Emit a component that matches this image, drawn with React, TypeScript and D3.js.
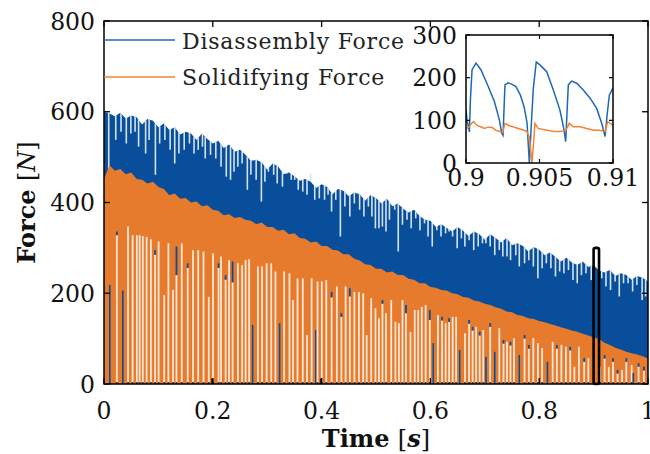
import React from "react";
import * as d3 from "d3";

// ---------- data ----------
const envT = [0,0.01,0.02,0.03,0.04,0.05,0.06,0.07,0.08,0.09,0.1,0.11,0.12,0.13,0.14,0.15,0.16,0.17,0.18,0.19,0.2,0.21,0.22,0.23,0.24,0.25,0.26,0.27,0.28,0.29,0.3,0.31,0.32,0.33,0.34,0.35,0.36,0.37,0.38,0.39,0.4,0.41,0.42,0.43,0.44,0.45,0.46,0.47,0.48,0.49,0.5,0.51,0.52,0.53,0.54,0.55,0.56,0.57,0.58,0.59,0.6,0.61,0.62,0.63,0.64,0.65,0.66,0.67,0.68,0.69,0.7,0.71,0.72,0.73,0.74,0.75,0.76,0.77,0.78,0.79,0.8,0.81,0.82,0.83,0.84,0.85,0.86,0.87,0.88,0.89,0.9,0.91,0.92,0.93,0.94,0.95,0.96,0.97,0.98,0.99,1];
const blueTop = [600,596,590,598,585,592,588,572,584,580,566,574,560,566,550,556,552,538,552,540,530,536,520,528,512,516,505,492,494,488,472,486,480,462,466,458,448,452,446,432,440,434,418,430,426,414,422,418,404,416,410,398,408,392,398,386,378,384,370,362,360,346,352,344,336,346,338,326,336,330,318,330,322,312,322,306,310,304,292,302,296,284,290,280,270,278,268,262,270,258,262,250,246,251,238,244,240,230,238,234,226];
const orangeTop = [452,482,470,474,462,466,452,450,442,446,434,430,416,420,408,410,400,402,392,394,384,382,372,374,366,368,362,360,352,356,346,346,338,340,330,332,322,320,312,314,304,304,296,294,286,286,276,272,264,262,254,254,246,248,240,240,232,230,222,222,214,212,207,206,200,198,192,190,184,182,177,174,169,166,160,158,152,150,145,143,139,136,132,129,125,122,118,115,111,107,103,99,91,86,80,76,71,68,65,61,56];

const blueGapT = [0.0087,0.0216,0.0313,0.041,0.0494,0.0571,0.0636,0.0765,0.0829,0.0945,0.1023,0.1119,0.1216,0.13,0.1377,0.1474,0.1571,0.1655,0.1732,0.181,0.1861,0.1958,0.2055,0.2152,0.2248,0.2326,0.239,0.2461,0.2539,0.2635,0.27,0.2797,0.2893,0.2958,0.3022,0.3119,0.3184,0.328,0.3364,0.3442,0.3506,0.3571,0.3654,0.3732,0.3796,0.3874,0.3958,0.4054,0.4119,0.4183,0.4261,0.4345,0.4428,0.4519,0.4602,0.4699,0.4777,0.486,0.4925,0.4989,0.5054,0.5118,0.5183,0.5247,0.5344,0.5409,0.5486,0.557,0.5647,0.5731,0.5808,0.5892,0.5957,0.6034,0.6118,0.6195,0.6279,0.6344,0.6408,0.6492,0.657,0.6634,0.6712,0.6796,0.6879,0.6957,0.7021,0.7099,0.7183,0.7266,0.7331,0.7408,0.7473,0.757,0.7634,0.7731,0.7809,0.7893,0.7976,0.8054,0.8131,0.8215,0.8299,0.8376,0.8454,0.8538,0.8621,0.8699,0.8777,0.886,0.8957,0.915,0.9227,0.9311,0.9395,0.9472,0.955,0.9634,0.9717,0.9795,0.9892,0.9956];
const blueGapBottom = [468,538,556,530,552,556,523,508,538,461,530,538,516,486,508,516,530,508,516,523,497,505,497,479,457,450,468,479,486,428,461,450,402,446,468,461,442,435,464,450,450,428,424,417,464,406,409,406,417,380,406,325,391,369,398,384,369,391,369,343,343,347,336,362,384,292,351,362,343,365,339,354,325,303,339,325,332,336,325,299,321,303,317,295,303,310,310,303,284,295,281,281,273,284,259,266,273,259,233,255,266,255,237,248,244,251,229,222,240,244,229,233,215,207,226,193,222,222,204,218,185,193];

const gapT = [0.0107,0.0236,0.0346,0.0442,0.0526,0.0604,0.0655,0.0713,0.0784,0.0862,0.0939,0.1004,0.1107,0.1184,0.1268,0.1332,0.1429,0.1539,0.1636,0.1732,0.1829,0.1926,0.2004,0.2106,0.2152,0.2235,0.2299,0.2364,0.2461,0.2539,0.2603,0.2668,0.2732,0.2829,0.2906,0.299,0.3074,0.3151,0.3228,0.3312,0.3409,0.3474,0.3557,0.3654,0.3732,0.3816,0.3893,0.3925,0.4004,0.4086,0.4184,0.428,0.4364,0.4441,0.4519,0.4603,0.4686,0.4765,0.4829,0.4912,0.499,0.5053,0.5119,0.5184,0.528,0.5357,0.5421,0.5487,0.5551,0.5634,0.5712,0.5776,0.5842,0.5912,0.5989,0.6053,0.6138,0.6215,0.628,0.6344,0.6409,0.6473,0.6538,0.6635,0.6712,0.6776,0.6841,0.6906,0.6971,0.7022,0.7099,0.7183,0.7267,0.7344,0.7408,0.7472,0.7537,0.7634,0.7731,0.7809,0.7892,0.7976,0.8054,0.8151,0.8247,0.8324,0.8408,0.8492,0.857,0.8647,0.873,0.8827,0.8904,0.9118,0.9202,0.9279,0.9357,0.944,0.9524,0.9601,0.9699,0.973,0.9827,0.9925];
const gapTop = [218,336,206,347,328,328,328,326,324,319,295,314,196,310,207,303,310,266,295,295,292,192,288,266,281,240,273,270,266,262,273,275,130,259,259,266,266,248,134,248,244,185,233,233,108,233,119,226,226,229,203,215,156,215,211,203,203,200,108,189,167,145,185,156,185,137,134,185,174,115,163,163,170,174,163,90,152,148,134,145,148,148,75,112,141,126,126,115,119,60,134,71,123,97,93,93,101,64,108,86,101,90,79,49,93,86,86,82,82,38,82,57,57,38,64,38,57,31,31,57,42,24,46,38];
const gapKind = ["b","c","b","w","w","w","w","w","w","w","c","w","w","w","w","c","w","c","w","w","w","w","w","c","w","c","w","c","w","w","w","w","b","w","w","w","w","w","b","w","w","w","w","w","w","w","b","w","w","w","c","w","c","w","c","w","w","w","w","w","w","w","c","w","w","w","w","w","c","w","w","w","w","w","c","b","w","c","w","c","w","w","b","w","c","c","w","c","w","b","c","b","w","c","w","c","w","b","c","c","w","w","w","b","w","c","w","w","c","w","w","c","w","w","c","w","c","c","w","c","w","b","c","c"];
const gapCap = [0,8,0,0,0,0,0,0,0,0,10,0,0,0,0,63,0,10,0,0,0,0,0,10,0,10,0,46,0,0,0,0,0,0,0,0,0,0,0,0,0,0,0,0,0,0,0,0,0,0,12,0,8,0,18,0,0,0,0,0,0,0,8,0,0,0,0,0,18,0,0,0,0,0,22,0,0,8,0,8,0,0,0,0,8,8,0,8,0,0,8,0,0,8,0,8,0,0,8,8,0,0,0,0,0,8,0,0,8,0,0,8,0,0,8,0,8,8,0,8,0,0,8,8];

const baseMarkT = [0.199, 0.399];
const baseMarkV = [12, 12];

const insetBlueT = [0.9,0.90007,0.90023,0.9003,0.90041,0.90068,0.90102,0.90147,0.90193,0.90227,0.90243,0.90252,0.90265,0.90286,0.9031,0.9034,0.9037,0.90395,0.90415,0.90431,0.90445,0.90458,0.90478,0.90503,0.90549,0.90594,0.90639,0.90667,0.90678,0.90696,0.90719,0.90753,0.90798,0.90844,0.90889,0.90923,0.90946,0.90961,0.90975,0.90998];
const insetBlueV = [124,101,73,148,218,234,218,183,144,101,70,65,183,188,185,179,159,132,95,0,95,175,237,230,214,171,124,77,50,183,192,187,171,152,128,93,62,116,159,175];
const insetOrangeT = [0.9,0.9002,0.90035,0.90052,0.90075,0.901,0.90125,0.9015,0.9018,0.902,0.9023,0.9025,0.90265,0.9029,0.9032,0.90355,0.90385,0.90413,0.9043,0.90449,0.90458,0.90469,0.9049,0.9055,0.906,0.90645,0.9068,0.90703,0.9073,0.9078,0.9082,0.9087,0.9091,0.90946,0.90964,0.90998];
const insetOrangeV = [81,84,92,97,88,85,81,84,83,77,74,72,93,88,85,81,78,74,62,0,40,93,81,77,74,74,77,93,85,85,81,77,77,74,97,89];

const xTicks = [0, 0.2, 0.4, 0.6, 0.8, 1];
const xTickLabels = ["0", "0.2", "0.4", "0.6", "0.8", "1"];
const yTicks = [0, 200, 400, 600, 800];
const yTickLabels = ["0", "200", "400", "600", "800"];
const insetXTicks = [0.9, 0.905, 0.91];
const insetXTickLabels = ["0.9", "0.905", "0.91"];
const insetYTicks = [0, 100, 200, 300];
const insetYTickLabels = ["0", "100", "200", "300"];
const seriesNames = ["Disassembly Force", "Solidifying Force"];

// ---------- styling ----------
const BLUE_FILL = "#084e9b";
const ORANGE_FILL = "#e67b2d";
const BLUE_LINE = "#1f68b8";
const ORANGE_LINE = "#ee8436";
const BLUE_GAP = "#d3e3f3";
const ORANGE_GAP = "#fce5d2";
const FONT = "DejaVu Serif";

export default function App() {
  const x = d3.scaleLinear().domain([0, 1]).range([104, 648]);
  const y = d3.scaleLinear().domain([0, 800]).range([384, 21]);
  const xi = d3.scaleLinear().domain([0.9, 0.91]).range([466, 613]);
  const yi = d3.scaleLinear().domain([0, 300]).range([163, 35]);

  const blueAt = d3.scaleLinear().domain(envT).range(blueTop).clamp(true);

  const area = (vals: number[]) =>
    d3.area<number>()
      .x((_, i) => x(envT[i]))
      .y0(y(0))
      .y1((d) => y(d))(vals) as string;

  const insetLine = (ts: number[], vs: number[]) =>
    d3.line<number>()
      .x((_, i) => xi(ts[i]))
      .y((d) => yi(d))(vs) as string;

  const tickLen = 6;

  return (
    <svg width={650} height={454} style={{ display: "block", position: "absolute", left: 0, top: 0, background: "#fff" }}>
      <rect x={0} y={0} width={650} height={454} fill="#fff" />
      {/* blue dense region */}
      <path d={area(blueTop)} fill={BLUE_FILL} />
      {blueGapT.map((t, i) => (
        <line key={"bg" + i} x1={x(t)} x2={x(t)} y1={y(blueGapBottom[i])} y2={y(blueAt(t)) - 0.5}
          stroke={BLUE_GAP} strokeWidth={1.6} />
      ))}
      {/* orange dense region */}
      <path d={area(orangeTop)} fill={ORANGE_FILL} />
      {gapT.map((t, i) => {
        const k = gapKind[i];
        if (k === "b") {
          return (
            <line key={"og" + i} x1={x(t)} x2={x(t)} y1={y(0)} y2={y(gapTop[i])} stroke={BLUE_FILL} strokeWidth={1.6} />
          );
        }
        const cap = gapCap[i];
        return (
          <g key={"og" + i}>
            <line x1={x(t)} x2={x(t)} y1={y(0)} y2={y(gapTop[i] - cap)} stroke={ORANGE_GAP} strokeWidth={1.8} />
            {k === "c" && (
              <line x1={x(t)} x2={x(t)} y1={y(gapTop[i] - cap)} y2={y(gapTop[i])} stroke={BLUE_FILL} strokeWidth={1.8} />
            )}
            <rect x={x(t) - 0.9} y={y(0) - 2} width={1.8} height={2} fill="#3a3a3a" />
          </g>
        );
      })}
      {baseMarkT.map((t, i) => (
        <rect key={"bm" + i} x={x(t) - 1.2} y={y(baseMarkV[i])} width={2.4} height={y(0) - y(baseMarkV[i])} fill="#222" />
      ))}
      {/* zoom marker */}
      <rect x={x(0.9)} y={y(300)} width={x(0.91) - x(0.9)} height={y(0) - y(300)} rx={2}
        fill="none" stroke="#000" strokeWidth={2.6} />

      {/* main axes box */}
      <rect x={x(0)} y={y(800)} width={x(1) - x(0)} height={y(0) - y(800)} fill="none" stroke="#000" strokeWidth={1.5} />
      {xTicks.map((t, i) => (
        <g key={"xt" + i}>
          <line x1={x(t)} x2={x(t)} y1={y(0)} y2={y(0) - tickLen} stroke="#000" strokeWidth={1.3} />
          <line x1={x(t)} x2={x(t)} y1={y(800)} y2={y(800) + tickLen} stroke="#000" strokeWidth={1.3} />
          <text x={x(t)} y={419} textAnchor="middle" fontFamily={FONT} fontSize={23.5} fill="#111">{xTickLabels[i]}</text>
        </g>
      ))}
      {yTicks.map((v, i) => (
        <g key={"yt" + i}>
          <line x1={x(0)} x2={x(0) + tickLen} y1={y(v)} y2={y(v)} stroke="#000" strokeWidth={1.3} />
          <line x1={x(1)} x2={x(1) - tickLen} y1={y(v)} y2={y(v)} stroke="#000" strokeWidth={1.3} />
          <text x={95} y={y(v) + 8.5} textAnchor="end" fontFamily={FONT} fontSize={23.5} fill="#111">{yTickLabels[i]}</text>
        </g>
      ))}

      {/* axis titles */}
      <text x={376} y={447} textAnchor="middle" fontFamily={FONT} fontSize={24} fontWeight="bold" fill="#111">
        Time <tspan fontWeight="normal">[</tspan><tspan fontStyle="italic">s</tspan><tspan fontWeight="normal">]</tspan>
      </text>
      <text transform={`translate(35,${(y(0) + y(800)) / 2}) rotate(-90)`} textAnchor="middle" fontFamily={FONT} fontSize={24} fontWeight="bold" fill="#111">
        Force <tspan fontWeight="normal">[</tspan><tspan fontStyle="italic" fontWeight="normal">N</tspan><tspan fontWeight="normal">]</tspan>
      </text>

      {/* legend */}
      <line x1={x(0)} x2={175} y1={40} y2={40} stroke={BLUE_LINE} strokeWidth={1.6} />
      <line x1={x(0)} x2={175} y1={77} y2={77} stroke={ORANGE_LINE} strokeWidth={1.6} />
      <text x={182} y={49} fontFamily={FONT} fontSize={22} letterSpacing={0.8} fill="#222">{seriesNames[0]}</text>
      <text x={182} y={85} fontFamily={FONT} fontSize={22} letterSpacing={0.8} fill="#222">{seriesNames[1]}</text>

      {/* inset */}
      <rect x={xi(0.9)} y={yi(300)} width={xi(0.91) - xi(0.9)} height={yi(0) - yi(300)} fill="#fff" />
      <defs>
        <clipPath id="insetClip">
          <rect x={xi(0.9)} y={yi(300)} width={xi(0.91) - xi(0.9)} height={yi(0) - yi(300)} />
        </clipPath>
      </defs>
      <g clipPath="url(#insetClip)">
        <path d={insetLine(insetBlueT, insetBlueV)} fill="none" stroke={BLUE_LINE} strokeWidth={1.5} />
        <path d={insetLine(insetOrangeT, insetOrangeV)} fill="none" stroke={ORANGE_LINE} strokeWidth={1.5} />
      </g>
      <rect x={xi(0.9)} y={yi(300)} width={xi(0.91) - xi(0.9)} height={yi(0) - yi(300)} fill="none" stroke="#000" strokeWidth={1.5} />
      {insetXTicks.map((t, i) => (
        <g key={"ixt" + i}>
          <line x1={xi(t)} x2={xi(t)} y1={yi(0)} y2={yi(0) - 4} stroke="#000" strokeWidth={1.2} />
          <line x1={xi(t)} x2={xi(t)} y1={yi(300)} y2={yi(300) + 4} stroke="#000" strokeWidth={1.2} />
          <text x={xi(t)} y={186} textAnchor="middle" fontFamily={FONT} fontSize={23.5} fill="#111">{insetXTickLabels[i]}</text>
        </g>
      ))}
      {insetYTicks.map((v, i) => (
        <g key={"iyt" + i}>
          <line x1={xi(0.9)} x2={xi(0.9) + 4} y1={yi(v)} y2={yi(v)} stroke="#000" strokeWidth={1.2} />
          <line x1={xi(0.91)} x2={xi(0.91) - 4} y1={yi(v)} y2={yi(v)} stroke="#000" strokeWidth={1.2} />
          <text x={457} y={yi(v) + 8.5} textAnchor="end" fontFamily={FONT} fontSize={23.5} fill="#111">{insetYTickLabels[i]}</text>
        </g>
      ))}
    </svg>
  );
}
